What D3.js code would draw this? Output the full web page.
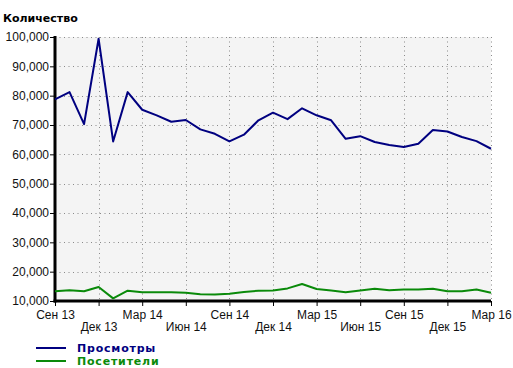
<!DOCTYPE html>
<html><head><meta charset="utf-8">
<script src="https://cdn.jsdelivr.net/npm/d3@7"></script>
<style>body{margin:0;background:#fff}svg{display:block}</style>
</head><body>
<script>
const months = ["2013-09","2013-10","2013-11","2013-12","2014-01","2014-02","2014-03","2014-04","2014-05","2014-06","2014-07","2014-08","2014-09","2014-10","2014-11","2014-12","2015-01","2015-02","2015-03","2015-04","2015-05","2015-06","2015-07","2015-08","2015-09","2015-10","2015-11","2015-12","2016-01","2016-02","2016-03"];
const views = [78700,81200,70300,99400,64400,81200,75200,73300,71100,71700,68500,67000,64400,66700,71600,74200,72000,75700,73300,71600,65300,66200,64200,63200,62500,63600,68300,67800,65900,64500,61900];
const visitors = [13300,13700,13300,14800,10900,13500,13000,13000,13000,12800,12300,12200,12500,13100,13500,13600,14300,15800,14100,13600,13000,13600,14200,13700,13900,13900,14200,13300,13300,13900,12800];
const tickMonths = ["2013-09","2013-12","2014-03","2014-06","2014-09","2014-12","2015-03","2015-06","2015-09","2015-12","2016-03"];
const tickLabels = ["Сен 13","Дек 13","Мар 14","Июн 14","Сен 14","Дек 14","Мар 15","Июн 15","Сен 15","Дек 15","Мар 16"];
const yTicks = [10000,20000,30000,40000,50000,60000,70000,80000,90000,100000];
const seriesNames = ["Просмотры","Посетители"];
const seriesColors = ["#000080","#0a8a0a"];

const W=513,H=368, L=55, R=491, T=37, B=301;
const svg = d3.select("body").append("svg").attr("width",W).attr("height",H);
const x = d3.scalePoint().domain(months).range([L,R]);
const y = d3.scaleLinear().domain([10000,100000]).range([B,T]);
const fmt = d3.format(",");

svg.append("rect").attr("x",L).attr("y",T).attr("width",R-L).attr("height",B-T).attr("fill","#f4f4f4");

// grid
const g = svg.append("g").attr("stroke","#8a8a8a").attr("stroke-width",1).attr("stroke-dasharray","1,3.5");
yTicks.slice(1).forEach(v=>g.append("line").attr("x1",L).attr("x2",R).attr("y1",Math.round(y(v))+0.5).attr("y2",Math.round(y(v))+0.5));
tickMonths.slice(1).forEach(m=>g.append("line").attr("x1",Math.round(x(m))+0.5).attr("x2",Math.round(x(m))+0.5).attr("y1",T).attr("y2",B));

// y axis
const ya = svg.append("g").attr("transform",`translate(${L},0)`)
  .call(d3.axisLeft(y).tickValues(yTicks).tickFormat(fmt).tickSize(5).tickPadding(1));
ya.select(".domain").remove();
ya.selectAll("text").attr("font-family","Liberation Sans, Arial, sans-serif").attr("font-size","12px").attr("fill","#111");
ya.selectAll("line").attr("stroke","#000");

// x axis
const xa = svg.append("g").attr("transform",`translate(0,${B})`)
  .call(d3.axisBottom(x).tickValues(tickMonths).tickFormat((d,i)=>tickLabels[i]).tickSize(5).tickPadding(2));
xa.select(".domain").remove();
xa.selectAll("text").attr("font-family","Liberation Sans, Arial, sans-serif").attr("font-size","12px").attr("fill","#111")
  .attr("dy",(d,i)=> i%2 ? "1.95em":"0.95em");
xa.selectAll("line").attr("stroke","#000");

// axis lines
svg.append("line").attr("x1",L).attr("x2",L).attr("y1",T-1).attr("y2",B+1.5).attr("stroke","#000").attr("stroke-width",3);
svg.append("line").attr("x1",L-1.5).attr("x2",R).attr("y1",B).attr("y2",B).attr("stroke","#000").attr("stroke-width",3);

// lines
const line = d3.line().x((d,i)=>x(months[i])).y(d=>y(d));
[views,visitors].forEach((s,k)=>{
  svg.append("path").datum(s).attr("d",line).attr("fill","none").attr("stroke",seriesColors[k]).attr("stroke-width",2).attr("stroke-linejoin","round");
});

// title
svg.append("text").attr("x",3).attr("y",22).text("Количество")
  .attr("font-family","DejaVu Sans, Verdana, sans-serif").attr("font-weight","bold").attr("font-size","11px").attr("fill","#000");

// legend
seriesNames.forEach((n,k)=>{
  const yy = 348 + k*13;
  svg.append("line").attr("x1",36).attr("x2",66).attr("y1",yy).attr("y2",yy).attr("stroke",seriesColors[k]).attr("stroke-width",2);
  svg.append("text").attr("x",77).attr("y",yy+4).text(n).attr("fill",seriesColors[k])
    .attr("font-family","DejaVu Sans, Verdana, sans-serif").attr("font-weight","bold").attr("font-size","11px").attr("letter-spacing","0.8px");
});
</script>
</body></html>
